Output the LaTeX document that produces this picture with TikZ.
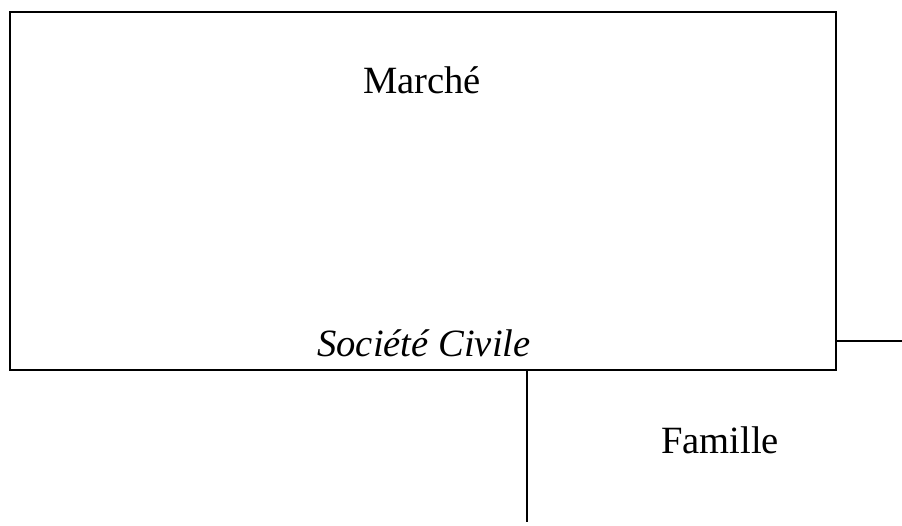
\documentclass[tikz,border=0pt]{standalone}
\usepackage{fontspec}
\setmainfont{Liberation Serif}
\usepackage{tikz}

\begin{document}
\begin{tikzpicture}[x=0.5pt, y=-0.5pt, line width=1pt,
  label/.style={font=\fontsize{19.3}{23}\selectfont, inner sep=0pt}]
\useasboundingbox (0,0) rectangle (902,526);
%
\node [draw, line width=1pt, minimum width=413pt, minimum height=179pt, inner sep=0pt] (societe) at (422.5,191) {};
\node [label] (marche) at (422,80) {Marché};
\node [label, anchor=base] (civile) at (424,356) {\itshape Société Civile};
\node [label] (famille) at (720,440) {Famille};
%
\coordinate (bas) at (527,522);
\coordinate (droite) at (902,341);
\draw (societe.south -| bas) -- (bas);
\draw (societe.east |- droite) -- (droite);
%%%%%%%%%%%%%%%%%%%%%%%%%%%%%%%
\end{tikzpicture}
\end{document}
